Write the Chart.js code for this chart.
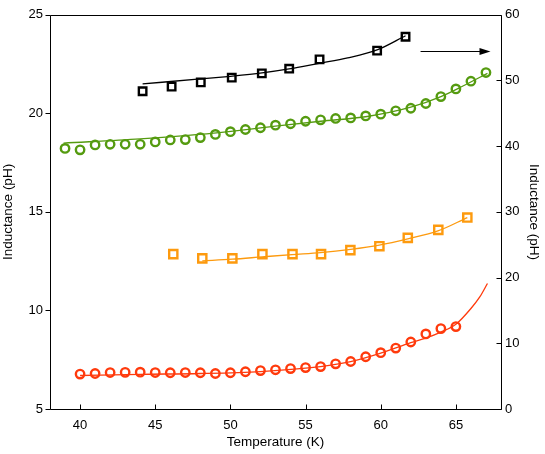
<!DOCTYPE html>
<html>
<head>
<meta charset="utf-8">
<script src="https://cdn.jsdelivr.net/npm/chart.js@4.4.1/dist/chart.umd.min.js"></script>
<style>
  html, body { margin: 0; padding: 0; background: #fff; }
  #wrap { width: 545px; height: 454px; }
</style>
</head>
<body>
<div id="wrap"><canvas id="chart" width="545" height="454"></canvas></div>
<script>
// tick values
const xTicks = [40, 45, 50, 55, 60, 65];
const leftTicks = [5, 10, 15, 20, 25];
const rightTicks = [0, 10, 20, 30, 40, 50, 60];

// green circles (left axis)
const greenTemps = [39, 40, 41, 42, 43, 44, 45, 46, 47, 48, 49, 50, 51, 52, 53, 54, 55, 56, 57, 58, 59, 60, 61, 62, 63, 64, 65, 66, 67];
const greenValues = [18.22, 18.15, 18.4, 18.43, 18.43, 18.43, 18.55, 18.65, 18.67, 18.77, 18.93, 19.07, 19.18, 19.27, 19.4, 19.47, 19.6, 19.67, 19.74, 19.77, 19.87, 19.96, 20.13, 20.26, 20.5, 20.85, 21.24, 21.63, 22.07];
const greenFitTemps = [38.9, 44, 48.9, 53.3, 56, 59.1, 62, 64, 65.5, 67.1];
const greenFitValues = [18.49, 18.71, 19.0, 19.38, 19.6, 19.84, 20.31, 20.85, 21.4, 22.03];

// red circles (left axis)
const redTemps = [40, 41, 42, 43, 44, 45, 46, 47, 48, 49, 50, 51, 52, 53, 54, 55, 56, 57, 58, 59, 60, 61, 62, 63, 64, 65];
const redValues = [6.77, 6.8, 6.85, 6.86, 6.87, 6.85, 6.84, 6.85, 6.84, 6.8, 6.84, 6.89, 6.95, 6.99, 7.05, 7.1, 7.15, 7.29, 7.41, 7.65, 7.86, 8.09, 8.4, 8.81, 9.08, 9.18];
const redFitTemps = [40, 44, 48, 52, 56, 58, 60, 62, 63, 64, 65, 66, 66.6, 67.1];
const redFitValues = [6.7, 6.76, 6.8, 6.9, 7.15, 7.4, 7.83, 8.37, 8.6, 8.9, 9.3, 10.1, 10.7, 11.37];

// black squares (right axis)
const blackTemps = [44.16, 46.09, 48.03, 50.09, 52.09, 53.91, 55.93, 59.76, 61.65];
const blackValues = [48.36, 49.07, 49.72, 50.44, 51.09, 51.8, 53.22, 54.54, 56.66];
const blackFitTemps = [44.16, 48, 50, 52.1, 53.9, 55.9, 57.8, 59.8, 61.65];
const blackFitValues = [49.48, 50.24, 50.64, 51.15, 51.76, 52.61, 53.43, 54.69, 56.81];

// orange squares (right axis)
const orangeTemps = [46.2, 48.13, 50.13, 52.13, 54.13, 56.03, 57.98, 59.91, 61.8, 63.83, 65.76];
const orangeValues = [23.57, 22.92, 22.92, 23.57, 23.57, 23.57, 24.18, 24.78, 26.05, 27.26, 29.14];
const orangeFitTemps = [48.13, 50.13, 52.1, 54.1, 56, 58, 59.9, 61.8, 63.8, 65.76];
const orangeFitValues = [22.55, 22.8, 23.15, 23.5, 23.8, 24.3, 24.95, 25.9, 27.1, 29.14];

// arrow pointing at the right axis (x, right-axis value)
const arrowFrom = [62.65, 54.45];
const arrowTo = [67.3, 54.45];

const GREEN = "#559b10";
const RED = "#ff3a0c";
const BLACK = "#000000";
const ORANGE = "#fd9a0e";
const FONT = "'Liberation Sans', Arial, sans-serif";

function toPoints(xs, ys) {
  return xs.map((x, i) => ({ x, y: ys[i] }));
}

function markers(label, xs, ys, color, style, radius, axis) {
  return {
    label,
    data: toPoints(xs, ys),
    yAxisID: axis,
    showLine: false,
    pointStyle: style,
    pointRadius: radius,
    pointHoverRadius: radius,
    pointBorderWidth: 2.4,
    pointBorderColor: color,
    pointBackgroundColor: "rgba(0,0,0,0)",
    order: 1,
  };
}

function fitLine(label, xs, ys, color, axis) {
  return {
    label,
    data: toPoints(xs, ys),
    yAxisID: axis,
    showLine: true,
    borderColor: color,
    borderWidth: 1.3,
    pointRadius: 0,
    cubicInterpolationMode: "monotone",
    order: 2,
  };
}

const framePlugin = {
  id: "frame",
  afterDatasetsDraw(chart) {
    const { ctx, chartArea: area, scales } = chart;
    const left = Math.round(area.left) + 0.5;
    const right = Math.round(area.right) + 0.5;
    const top = Math.round(area.top) + 0.5;
    const bottom = Math.round(area.bottom) + 0.5;

    ctx.save();
    ctx.strokeStyle = "#000";
    ctx.lineWidth = 1;
    ctx.beginPath();
    ctx.moveTo(left, top);
    ctx.lineTo(right, top);
    ctx.lineTo(right, bottom);
    ctx.lineTo(left, bottom);
    ctx.lineTo(left, top);

    xTicks.forEach((v) => {
      const px = Math.round(scales.x.getPixelForValue(v)) + 0.5;
      ctx.moveTo(px, bottom);
      ctx.lineTo(px, bottom - 5);
    });
    leftTicks.forEach((v) => {
      const py = Math.round(scales.y.getPixelForValue(v)) + 0.5;
      ctx.moveTo(left - 5, py);
      ctx.lineTo(left, py);
    });
    rightTicks.forEach((v) => {
      const py = Math.round(scales.y1.getPixelForValue(v)) + 0.5;
      ctx.moveTo(right - 5, py);
      ctx.lineTo(right, py);
    });
    ctx.stroke();

    // arrow
    const ax0 = scales.x.getPixelForValue(arrowFrom[0]);
    const ax1 = scales.x.getPixelForValue(arrowTo[0]);
    const ay = Math.round(scales.y1.getPixelForValue(arrowFrom[1])) + 0.5;
    ctx.beginPath();
    ctx.moveTo(ax0, ay);
    ctx.lineTo(ax1 - 8, ay);
    ctx.stroke();
    ctx.beginPath();
    ctx.fillStyle = "#000";
    ctx.moveTo(ax1, ay);
    ctx.lineTo(ax1 - 11, ay - 3.5);
    ctx.lineTo(ax1 - 11, ay + 3.5);
    ctx.closePath();
    ctx.fill();
    ctx.restore();
  },
};

const tickFont = { family: FONT, size: 13 };
const titleFont = { family: FONT, size: 13.5 };

new Chart(document.querySelector("#chart"), {
  type: "scatter",
  data: {
    datasets: [
      fitLine("green fit", greenFitTemps, greenFitValues, GREEN, "y"),
      markers("green", greenTemps, greenValues, GREEN, "circle", 4.2, "y"),
      fitLine("red fit", redFitTemps, redFitValues, RED, "y"),
      markers("red", redTemps, redValues, RED, "circle", 4.2, "y"),
      fitLine("black fit", blackFitTemps, blackFitValues, BLACK, "y1"),
      markers("black", blackTemps, blackValues, BLACK, "rect", 5.3, "y1"),
      fitLine("orange fit", orangeFitTemps, orangeFitValues, ORANGE, "y1"),
      markers("orange", orangeTemps, orangeValues, ORANGE, "rect", 5.8, "y1"),
    ],
  },
  options: {
    responsive: false,
    animation: false,
    devicePixelRatio: 1,
    layout: { padding: { top: 14, left: 0, right: 0, bottom: 0 } },
    plugins: {
      legend: { display: false },
      tooltip: { enabled: false },
    },
    scales: {
      x: {
        type: "linear",
        min: 38,
        max: 68,
        afterBuildTicks: (scale) => { scale.ticks = xTicks.map((value) => ({ value })); },
        afterFit: (scale) => { scale.height = 45; },
        grid: { display: false, drawTicks: false },
        border: { display: false },
        ticks: { color: "#000", font: tickFont, padding: 9 },
        title: {
          display: true,
          text: "Temperature (K)",
          color: "#000",
          font: titleFont,
          padding: { top: 0, bottom: 4 },
        },
      },
      y: {
        type: "linear",
        position: "left",
        min: 5,
        max: 25,
        afterBuildTicks: (scale) => { scale.ticks = leftTicks.map((value) => ({ value })); },
        afterFit: (scale) => { scale.width = 50; },
        grid: { display: false, drawTicks: false },
        border: { display: false },
        ticks: { color: "#000", font: tickFont, padding: 7 },
        title: {
          display: true,
          text: "Inductance (pH)",
          color: "#000",
          font: titleFont,
          padding: { top: 0, bottom: 0 },
        },
      },
      y1: {
        type: "linear",
        position: "right",
        min: 0,
        max: 60,
        afterBuildTicks: (scale) => { scale.ticks = rightTicks.map((value) => ({ value })); },
        afterFit: (scale) => { scale.width = 44; },
        grid: { display: false, drawTicks: false },
        border: { display: false },
        ticks: { color: "#000", font: tickFont, padding: 4 },
        title: {
          display: true,
          text: "Inductance (pH)",
          color: "#000",
          font: titleFont,
          padding: { top: 3, bottom: 0 },
        },
      },
    },
  },
  plugins: [framePlugin],
});
</script>
</body>
</html>
